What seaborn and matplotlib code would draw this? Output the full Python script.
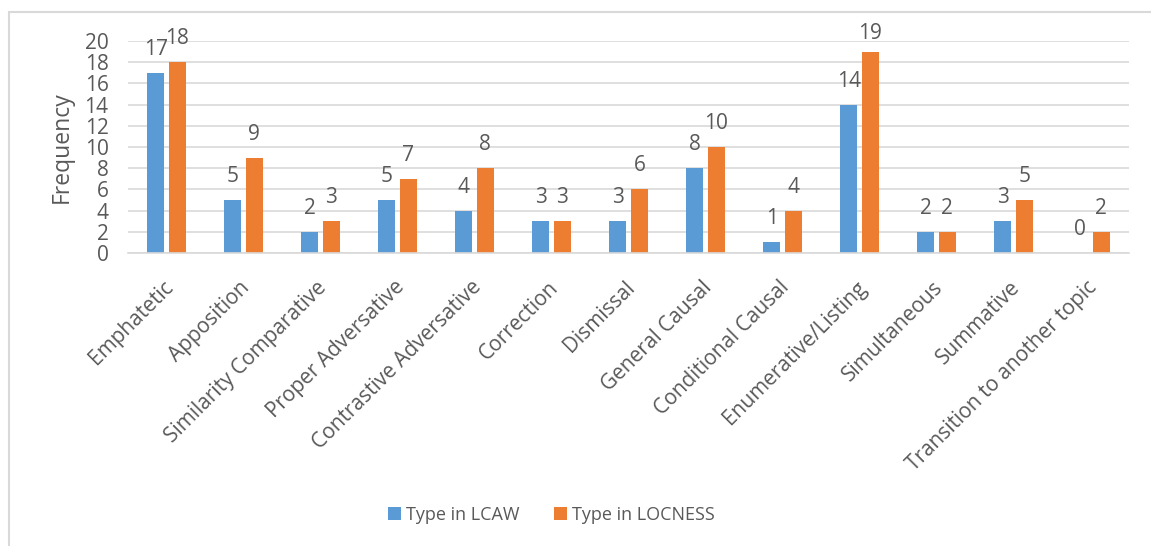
import matplotlib
matplotlib.use("Agg")
import matplotlib.pyplot as plt
import matplotlib.transforms as mtransforms
import seaborn as sns
import pandas as pd
from matplotlib.patches import Rectangle

categories = ["Emphatetic", "Apposition", "Similarity Comparative", "Proper Adversative",
              "Contrastive Adversative", "Correction", "Dismissal", "General Causal",
              "Conditional Causal", "Enumerative/Listing", "Simultaneous", "Summative",
              "Transition to another topic"]
lcaw = [17, 5, 2, 5, 4, 3, 3, 8, 1, 14, 2, 3, 0]
locness = [18, 9, 3, 7, 8, 3, 6, 10, 4, 19, 2, 5, 2]
series_names = ["Type in LCAW", "Type in LOCNESS"]
colors = ["#5B9BD5", "#ED7D31"]
yticks = list(range(0, 21, 2))

sns.set_theme(style="white")
plt.rcParams['font.family'] = ['Open Sans', 'DejaVu Sans']
TXT = "#595959"

df = pd.DataFrame({
    "category": categories * 2,
    "value": lcaw + locness,
    "series": [series_names[0]] * len(categories) + [series_names[1]] * len(categories),
})

W, H = 1151, 546
fig = plt.figure(figsize=(W / 100, H / 100), dpi=100)
ax = fig.add_axes([128 / W, (H - 253) / H, (1129 - 128) / W, (253 - 41) / H])

sns.barplot(data=df, x="category", y="value", hue="series", order=categories,
            hue_order=series_names, palette=colors, width=0.567, gap=0.2,
            saturation=1, ax=ax, legend=True, edgecolor="none")

ax.set_ylim(0, 20)
ax.set_xlim(-0.5, len(categories) - 0.5)
ax.set_yticks(yticks)
ax.set_yticklabels([str(t) for t in yticks], fontsize=15, color=TXT)
ax.yaxis.grid(True, color="#D9D9D9", linewidth=1.2)
ax.set_axisbelow(True)
for s in ["top", "right", "left"]:
    ax.spines[s].set_visible(False)
ax.spines["bottom"].set_color("#D9D9D9")
ax.spines["bottom"].set_linewidth(1.2)
ax.tick_params(axis="y", length=0, pad=14)
ax.tick_params(axis="x", length=0, pad=15)
ax.set_xticks(range(len(categories)))
ax.set_xticklabels(categories, rotation=45, ha="right", rotation_mode="anchor",
                   fontsize=15, color=TXT)
shift = mtransforms.ScaledTranslation(-4 / 100, -3 / 100, fig.dpi_scale_trans)
for lab in ax.get_xticklabels():
    lab.set_transform(lab.get_transform() + shift)
ax.set_xlabel("")
ax.set_ylabel("Frequency", fontsize=16.5, color=TXT, labelpad=8)

# data labels above bars (kept inside the chart area, like the original)
px_per_unit = (253 - 41) / 20.0
for cont in ax.containers:
    for bar in cont:
        h = bar.get_height()
        top_px = 253 - h * px_per_unit
        off_px = min(18.0, top_px - 39.0)
        ax.annotate(f"{int(round(h))}", (bar.get_x() + bar.get_width() / 2, h),
                    xytext=(0, off_px * 0.72), textcoords="offset points", ha="center",
                    va="baseline", fontsize=15, color=TXT)

handles, labels = ax.get_legend_handles_labels()
ax.legend_.remove()
fig.legend(handles, labels, loc="center", bbox_to_anchor=(551 / W, 1 - 515 / H),
           ncol=2, frameon=False, fontsize=13, labelcolor=TXT,
           handlelength=0.75, handleheight=0.75, handletextpad=0.25, columnspacing=1.9)

fig.patches.append(Rectangle((9 / W, -0.1), 1.5, (H - 12) / H + 0.1, transform=fig.transFigure,
                             fill=False, edgecolor="#D9D9D9", linewidth=1.5))

fig.savefig("out.png", dpi=100, facecolor="white")
